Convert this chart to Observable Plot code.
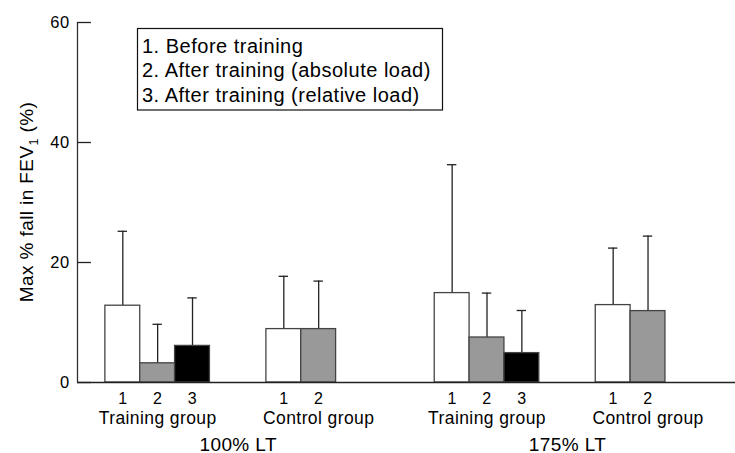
<!DOCTYPE html>
<html><head><meta charset="utf-8">
<script src="https://cdn.jsdelivr.net/npm/d3@7"></script>
<script src="https://cdn.jsdelivr.net/npm/@observablehq/plot@0.6"></script>
<style>body{margin:0;background:#fff}</style>
</head><body><div id="chart"></div>
<script>
const conditions = ["100% LT", "175% LT"];
const groups = ["Training group", "Control group"];
const phases = ["1", "2", "3"];
const legendLabels = ["1. Before training", "2. After training (absolute load)", "3. After training (relative load)"];
const yTicks = [0, 20, 40, 60];

const training100Mean = [12.8, 3.2, 6.1];
const training100SD   = [12.4, 6.5, 8.0];
const control100Mean  = [8.9, 8.9];
const control100SD    = [8.8, 8.0];
const training175Mean = [14.9, 7.5, 4.9];
const training175SD   = [21.4, 7.4, 7.1];
const control175Mean  = [12.9, 11.9];
const control175SD    = [9.5, 12.5];

const series = [
  [[training100Mean, training100SD], [control100Mean, control100SD]],
  [[training175Mean, training175SD], [control175Mean, control175SD]]
];

// layout in bar-width units
const leftPad = 0.8, groupStep = 4.62, condStep = 9.45, xMax = 18.88;

const bars = [];
const groupRows = [];
const condRows = [];
conditions.forEach((cond, c) => {
  groups.forEach((grp, g) => {
    const start = leftPad + c * condStep + g * groupStep;
    const [means, sds] = series[c][g];
    means.forEach((m, i) => {
      bars.push({x1: start + i, x2: start + i + 1, cx: start + i + 0.5, mean: m, top: m + sds[i], phase: phases[i]});
    });
    groupRows.push({cx: start + 1.5, label: grp});
  });
  condRows.push({cx: leftPad + c * condStep + 1.5 + groupStep / 2, label: cond});
});

const font = '"Liberation Sans", Arial, Helvetica, sans-serif';

const plot = Plot.plot({
  width: 735, height: 453,
  marginLeft: 77, marginRight: 0, marginTop: 22, marginBottom: 71,
  x: {domain: [0, xMax], axis: null},
  y: {domain: [0, 60], axis: null},
  color: {domain: phases, range: ["#ffffff", "#999999", "#000000"]},
  style: {fontFamily: font, background: "white", color: "#000", letterSpacing: "0.4px"},
  marks: [
    Plot.ruleX(bars, {x: "cx", y1: "mean", y2: "top", stroke: "#222", strokeWidth: 1.3}),
    Plot.ruleY(bars, {y: "top", x1: d => d.cx - 0.135, x2: d => d.cx + 0.135, stroke: "#222", strokeWidth: 1.3}),
    Plot.rect(bars, {x1: "x1", x2: "x2", y1: 0, y2: "mean", fill: "phase", stroke: "#444", strokeWidth: 1.3}),
    Plot.ruleX([0], {y1: 0, y2: 60, stroke: "#333", strokeWidth: 1.3}),
    Plot.ruleY([0], {stroke: "#222", strokeWidth: 1.5}),
    Plot.ruleY(yTicks, {x1: 0, x2: 0.4, stroke: "#222", strokeWidth: 1.3}),
    Plot.axisY({ticks: yTicks, tickSize: 0, tickPadding: 8, fontSize: 16.5, label: null, tickFormat: d => String(d)}),
    Plot.text(bars, {x: "cx", text: "phase", frameAnchor: "bottom", lineAnchor: "bottom", dy: 21, fontSize: 16}),
    Plot.text(groupRows, {x: "cx", text: "label", frameAnchor: "bottom", lineAnchor: "bottom", dy: 41, fontSize: 17.5}),
    Plot.text(condRows, {x: "cx", text: "label", frameAnchor: "bottom", lineAnchor: "bottom", dy: 68, fontSize: 19}),
    (index, scales, values, dims) => {
      const g = d3.create("svg:g");
      g.append("rect")
        .attr("x", 137.5).attr("y", 28.5).attr("width", 305).attr("height", 81.5)
        .attr("fill", "white").attr("stroke", "#111").attr("stroke-width", 1.2);
      g.selectAll("text").data(legendLabels).join("text")
        .attr("x", 142).attr("y", (d, i) => 52.5 + i * 24.5)
        .attr("text-anchor", "start")
        .attr("font-size", 20).attr("letter-spacing", "0.5px").attr("fill", "#000")
        .text(d => d);
      return g.node();
    },
    (index, scales) => {
      const t = d3.create("svg:text")
        .attr("transform", `translate(32.5,${scales.y(30)}) rotate(-90)`)
        .attr("text-anchor", "middle").attr("font-size", 19).attr("fill", "#000");
      t.append("tspan").text("Max % fall in FEV");
      t.append("tspan").attr("font-size", 12.5).attr("dy", 5).text("1");
      t.append("tspan").attr("dy", -5).text(" (%)");
      return t.node();
    }
  ]
});
document.getElementById("chart").appendChild(plot);
</script>
</body></html>
